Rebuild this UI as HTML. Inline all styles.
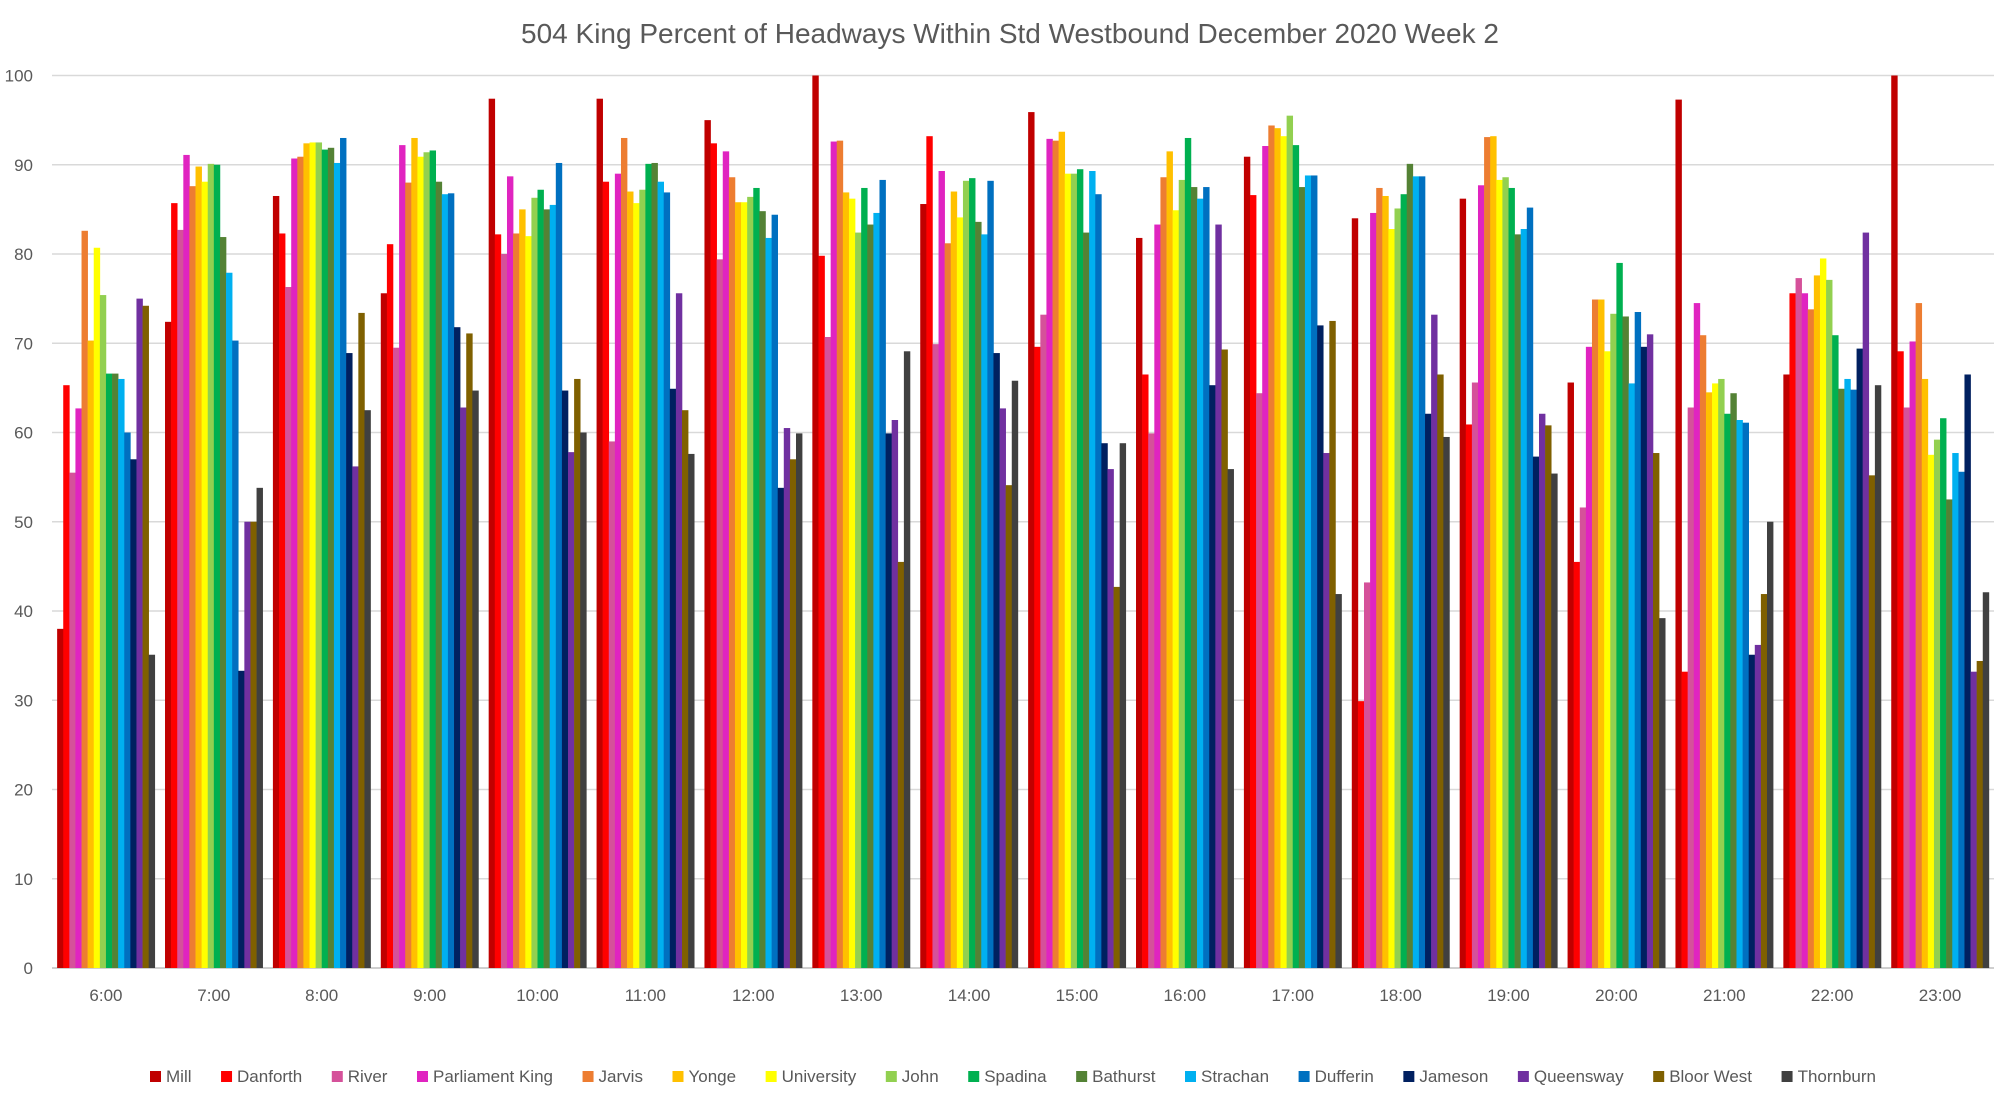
<!DOCTYPE html>
<html><head><meta charset="utf-8"><style>
html,body{margin:0;padding:0;background:#fff;}
body{width:2005px;height:1094px;overflow:hidden;font-family:"Liberation Sans",sans-serif;}
svg text{font-family:"Liberation Sans",sans-serif;fill:#595959;}
</style></head><body>
<svg id="chart" width="2005" height="1094" viewBox="0 0 2005 1094" xmlns="http://www.w3.org/2000/svg">
<text x="1010" y="43" font-size="28" text-anchor="middle">504 King  Percent of Headways Within Std Westbound December 2020 Week 2</text>
<g id="grid"></g><g id="bars"></g><g id="axes"></g><g id="legend"></g>
</svg>
<script>
const categories = ["6:00","7:00","8:00","9:00","10:00","11:00","12:00","13:00","14:00","15:00","16:00","17:00","18:00","19:00","20:00","21:00","22:00","23:00"];
const seriesNames = ["Mill","Danforth","River","Parliament King","Jarvis","Yonge","University","John","Spadina","Bathurst","Strachan","Dufferin","Jameson","Queensway","Bloor West","Thornburn"];
const seriesColors = ["#C00000","#FF0000","#D5519A","#E024C0","#ED7D31","#FFC000","#FFFF00","#92D050","#00B050","#548235","#00B0F0","#0070C0","#002060","#7030A0","#7F6000","#404040"];
const yTicks = [0,10,20,30,40,50,60,70,80,90,100];
const v0600 = [38,65.3,55.5,62.7,82.6,70.3,80.7,75.4,66.6,66.6,66,60,57,75,74.2,35.1];
const v0700 = [72.4,85.7,82.7,91.1,87.6,89.8,88.1,90.1,90,81.9,77.9,70.3,33.3,50,50,53.8];
const v0800 = [86.5,82.3,76.3,90.7,90.9,92.4,92.5,92.5,91.7,91.9,90.2,93,68.9,56.2,73.4,62.5];
const v0900 = [75.6,81.1,69.5,92.2,88,93,90.9,91.4,91.6,88.1,86.7,86.8,71.8,62.8,71.1,64.7];
const v1000 = [97.4,82.2,80,88.7,82.3,85,82,86.3,87.2,85,85.5,90.2,64.7,57.8,66,60];
const v1100 = [97.4,88.1,59,89,93,87,85.7,87.2,90.1,90.2,88.1,86.9,64.9,75.6,62.5,57.6];
const v1200 = [95,92.4,79.4,91.5,88.6,85.8,85.8,86.4,87.4,84.8,81.8,84.4,53.8,60.5,57,59.9];
const v1300 = [100,79.8,70.7,92.6,92.7,86.9,86.2,82.4,87.4,83.3,84.6,88.3,59.9,61.4,45.5,69.1];
const v1400 = [85.6,93.2,69.9,89.3,81.2,87,84.1,88.2,88.5,83.6,82.2,88.2,68.9,62.7,54.1,65.8];
const v1500 = [95.9,69.6,73.2,92.9,92.7,93.7,89,89,89.5,82.4,89.3,86.7,58.8,55.9,42.7,58.8];
const v1600 = [81.8,66.5,59.9,83.3,88.6,91.5,84.9,88.3,93,87.5,86.2,87.5,65.3,83.3,69.3,55.9];
const v1700 = [90.9,86.6,64.4,92.1,94.4,94.1,93.2,95.5,92.2,87.5,88.8,88.8,72,57.7,72.5,41.9];
const v1800 = [84,29.9,43.2,84.6,87.4,86.5,82.8,85.1,86.7,90.1,88.7,88.7,62.1,73.2,66.5,59.5];
const v1900 = [86.2,60.9,65.6,87.7,93.1,93.2,88.3,88.6,87.4,82.2,82.8,85.2,57.3,62.1,60.8,55.4];
const v2000 = [65.6,45.5,51.6,69.6,74.9,74.9,69.1,73.3,79,73,65.5,73.5,69.6,71,57.7,39.2];
const v2100 = [97.3,33.2,62.8,74.5,70.9,64.5,65.5,66,62.1,64.4,61.4,61.1,35.1,36.2,41.9,50];
const v2200 = [66.5,75.6,77.3,75.6,73.8,77.6,79.5,77.1,70.9,64.9,66,64.8,69.4,82.4,55.2,65.3];
const v2300 = [100,69.1,62.8,70.2,74.5,66,57.5,59.2,61.6,52.5,57.7,55.6,66.5,33.2,34.4,42.1];
const hourValues = [v0600,v0700,v0800,v0900,v1000,v1100,v1200,v1300,v1400,v1500,v1600,v1700,v1800,v1900,v2000,v2100,v2200,v2300];

const NS="http://www.w3.org/2000/svg";
const plotL=52, plotR=1994, plotT=75.5, plotB=968;
const catW=(plotR-plotL)/categories.length;
const groupW=catW*0.905;
const barW=groupW/seriesNames.length;
function y(v){return plotB-(v/100)*(plotB-plotT);}
function xCat(i){return plotL+catW*i+catW/2;}
function mk(tag,attrs,parent){const e=document.createElementNS(NS,tag);for(const k in attrs)e.setAttribute(k,attrs[k]);parent.appendChild(e);return e;}

const grid=document.getElementById('grid'), axes=document.getElementById('axes'), bars=document.getElementById('bars'), legend=document.getElementById('legend');
yTicks.forEach(t=>{
  const ln=mk('line',{x1:plotL,x2:plotR,y1:y(t),y2:y(t),stroke:t===0?'#bfbfbf':'#d9d9d9','stroke-width':1.5},grid);
  
  
  const tx=mk('text',{x:33,y:y(t)+6,'font-size':17,'text-anchor':'end'},axes);
  tx.textContent=t;
  
  
});
categories.forEach((c,i)=>{
  const tx=mk('text',{x:xCat(i),y:1001,'font-size':17,'text-anchor':'middle'},axes);
  tx.textContent=c;
  
  
  const vals=hourValues[i];
  const x0=xCat(i)-groupW/2;
  vals.forEach((v,s)=>{
    const r=mk('rect',{x:x0+s*barW,y:y(v),width:barW+0.3,height:plotB-y(v),fill:seriesColors[s]},bars);
    
    
  });
});
// legend: measure text, distribute between x=150 and x=1876
const entries=[];
let textSum=0;
seriesNames.forEach((n,s)=>{
  const g=mk('g',{},legend);
  
  
  const r=mk('rect',{x:0,y:1071,width:11,height:11,fill:seriesColors[s]},g);
  const t=mk('text',{x:0,y:1082,'font-size':17},g);
  t.textContent=n;
  const w=t.getComputedTextLength();
  textSum+=w;
  entries.push([r,t,w]);
});
const legL=150, legR=1876;
const gapL=(legR-legL-textSum-16*16)/15;
let lx=legL;
entries.forEach(([r,t,w])=>{
  r.setAttribute('x',lx);
  t.setAttribute('x',lx+16);
  lx+=16+w+gapL;
});
</script>
</body></html>
